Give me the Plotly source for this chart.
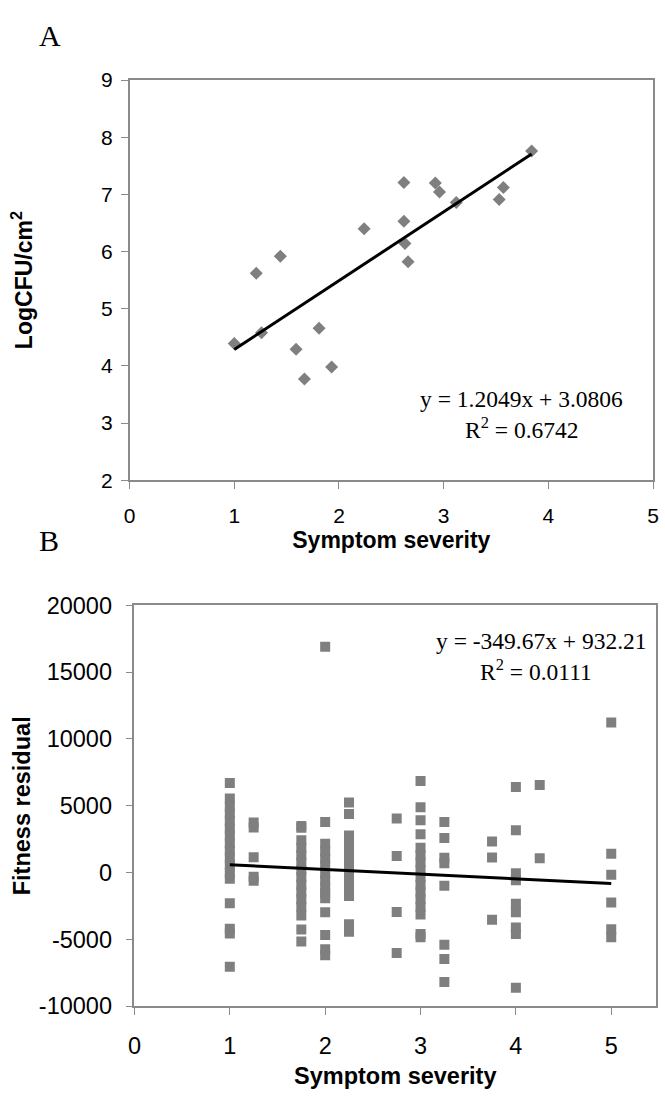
import numpy as np
import plotly.graph_objects as go

# ---------------- Panel A data ----------------
sev_a = [1.00, 1.21, 1.26, 1.44, 1.59, 1.67, 1.81, 1.93, 2.24, 2.62, 2.62, 2.63, 2.66,
         2.92, 2.96, 3.12, 3.53, 3.57, 3.84]
logcfu_a = [4.39, 5.62, 4.58, 5.92, 4.29, 3.77, 4.66, 3.98, 6.40, 7.21, 6.53, 6.14, 5.82,
            7.20, 7.04, 6.86, 6.91, 7.12, 7.76]
slope_a, icpt_a, r2_a = 1.2049, 3.0806, 0.6742

# ---------------- Panel B data ----------------
sev_b_1 = [6700, 5550, 4950, 4400, 3850, 3300, 2750, 2200, 1650, 1100, 550, 0, -450,
           -2300, -4200, -4550, -7050]
sev_b_125 = [3750, 3380, 1150, -300, -600]
sev_b_175 = [3480, 3350, 2420, 1850, 1300, 750, 200, -350, -900, -1450, -2000, -2550,
             -3200, -4260, -5160]
sev_b_2 = [16900, 3780, 2170, 1600, 1050, 500, -50, -600, -1150, -1550, -1920, -2970,
           -4670, -5740, -6180]
sev_b_225 = [5240, 4390, 2780, 2200, 1650, 1100, 500, -50, -600, -1150, -1750, -3870, -4430]
sev_b_275 = [4050, 1250, -2940, -6010]
sev_b_3 = [6850, 4900, 3920, 2880, 1860, 1300, 750, 200, -350, -900, -1450, -2000, -2550,
           -3130, -4600, -4840]
sev_b_325 = [3780, 2590, 1120, 710, -990, -5400, -6470, -8180]
sev_b_375 = [2320, 1130, -3530]
sev_b_4 = [6410, 3170, -40, -580, -2330, -2970, -4110, -4600, -8620]
sev_b_425 = [6560, 1080]
sev_b_5 = [11230, 1420, -160, -2240, -4230, -4840]
severity_levels_b = [1, 1.25, 1.75, 2, 2.25, 2.75, 3, 3.25, 3.75, 4, 4.25, 5]
residual_groups_b = [sev_b_1, sev_b_125, sev_b_175, sev_b_2, sev_b_225, sev_b_275, sev_b_3,
                     sev_b_325, sev_b_375, sev_b_4, sev_b_425, sev_b_5]
slope_b, icpt_b, r2_b = -349.67, 932.21, 0.0111

xticks_a = [0, 1, 2, 3, 4, 5]
yticks_a = [2, 3, 4, 5, 6, 7, 8, 9]
xticks_b = [0, 1, 2, 3, 4, 5]
yticks_b = [-10000, -5000, 0, 5000, 10000, 15000, 20000]

# ---------------- build ----------------
x_b, y_b = [], []
for lvl, grp in zip(severity_levels_b, residual_groups_b):
    x_b += [lvl] * len(grp)
    y_b += grp

GRAY = "#7f7f7f"
AXC = "#8a8a8a"
SANS = "Arial, 'Liberation Sans', sans-serif"
SERIF = "'Times New Roman', 'Liberation Serif', serif"

fig = go.Figure()
fig.add_trace(go.Scatter(x=sev_a, y=logcfu_a, mode="markers",
                         marker=dict(symbol="diamond", size=10, color=GRAY),
                         xaxis="x", yaxis="y", showlegend=False))
xa_line = np.array([min(sev_a), max(sev_a)])
fig.add_trace(go.Scatter(x=xa_line, y=slope_a * xa_line + icpt_a, mode="lines",
                         line=dict(color="black", width=3), xaxis="x", yaxis="y",
                         showlegend=False))
fig.add_trace(go.Scatter(x=x_b, y=y_b, mode="markers",
                         marker=dict(symbol="square", size=10, color=GRAY),
                         xaxis="x2", yaxis="y2", showlegend=False))
xb_line = np.array([min(x_b), max(x_b)])
fig.add_trace(go.Scatter(x=xb_line, y=slope_b * xb_line + icpt_b, mode="lines",
                         line=dict(color="black", width=3), xaxis="x2", yaxis="y2",
                         showlegend=False))

W, H = 665, 1100
def px(x): return x / W
def py(y): return 1 - y / H

axis_common = dict(showgrid=False, zeroline=False, showline=True, linecolor=AXC,
                   linewidth=1.5, mirror=True, ticks="outside", tickcolor=AXC,
                   ticklen=7, tickwidth=1.2)

fig.update_layout(
    width=W, height=H, margin=dict(l=0, r=0, t=0, b=0),
    paper_bgcolor="white", plot_bgcolor="white",
    xaxis=dict(domain=[px(125), px(659)], range=[0, 5], tickvals=xticks_a,
               ticktext=[str(v) for v in xticks_a], ticklabelstandoff=9,
               tickfont=dict(family=SANS, size=21, color="black"),
               title=dict(text="<b>Symptom severity</b>", standoff=6,
                          font=dict(family=SANS, size=23, color="black")),
               anchor="y", **axis_common),
    yaxis=dict(domain=[py(478.5), py(68.7)], range=[2, 9], tickvals=yticks_a,
               ticktext=[str(v) for v in yticks_a], ticklabelstandoff=4,
               tickfont=dict(family=SANS, size=21, color="black"),
               title=dict(text="<b>LogCFU/cm<sup>2</sup></b>", standoff=62,
                          font=dict(family=SANS, size=23, color="black")),
               anchor="x", **axis_common),
    xaxis2=dict(domain=[px(130), px(662)], range=[0, 5.47], tickvals=xticks_b,
                ticktext=[str(v) for v in xticks_b], ticklabelstandoff=11,
                tickfont=dict(family=SANS, size=23.5, color="black"),
                title=dict(text="<b>Symptom severity</b>", standoff=9,
                           font=dict(family=SANS, size=23.5, color="black")),
                anchor="y2", **axis_common),
    yaxis2=dict(domain=[py(1017.3), py(606.7)], range=[-10000, 20000], tickvals=yticks_b,
                ticktext=[str(v) for v in yticks_b], ticklabelstandoff=9,
                tickfont=dict(family=SANS, size=23.5, color="black"),
                title=dict(text="<b>Fitness residual</b>", standoff=2,
                           font=dict(family=SANS, size=23.5, color="black")),
                anchor="x2", **axis_common),
    annotations=[
        dict(text="A", x=px(43.5), y=py(23.5), xref="paper", yref="paper",
             showarrow=False, font=dict(family=SERIF, size=30, color="black"),
             xanchor="center", yanchor="middle"),
        dict(text="B", x=px(43), y=py(540), xref="paper", yref="paper",
             showarrow=False, font=dict(family=SERIF, size=30, color="black"),
             xanchor="center", yanchor="middle"),
        dict(text=f"y = {slope_a}x + {icpt_a}", x=px(525), y=py(395), xref="paper",
             yref="paper", showarrow=False, xanchor="center", yanchor="middle",
             font=dict(family=SERIF, size=23.5, color="black")),
        dict(text=f"R<sup>2</sup> = {r2_a}", x=px(525), y=py(425), xref="paper",
             yref="paper", showarrow=False, xanchor="center", yanchor="middle",
             font=dict(family=SERIF, size=23.5, color="black")),
        dict(text=f"y = {slope_b}x + {icpt_b}", x=px(545), y=py(643), xref="paper",
             yref="paper", showarrow=False, xanchor="center", yanchor="middle",
             font=dict(family=SERIF, size=23.5, color="black")),
        dict(text=f"R<sup>2</sup> = {r2_b}", x=px(540), y=py(673), xref="paper",
             yref="paper", showarrow=False, xanchor="center", yanchor="middle",
             font=dict(family=SERIF, size=23.5, color="black")),
    ],
)

fig.write_html("out.html")
